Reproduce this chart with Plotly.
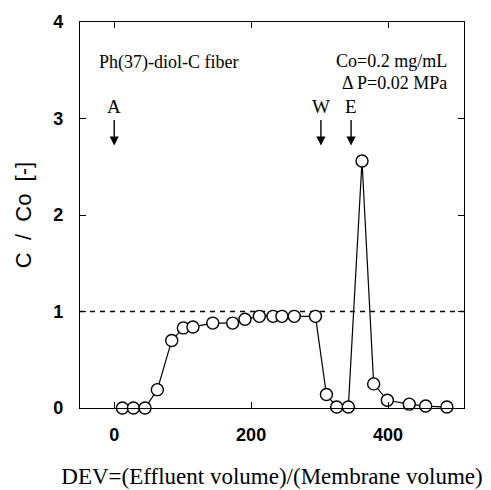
import plotly.graph_objects as go

dev = [12, 28, 45, 63, 84, 101, 115, 144, 173, 191, 212, 232, 245, 263, 294,
       310, 325, 342, 362, 379, 399, 431, 455, 486]
c_co = [0.0, 0.0, 0.0, 0.19, 0.70, 0.83, 0.84, 0.88, 0.88, 0.92, 0.95, 0.95,
        0.95, 0.95, 0.95, 0.14, 0.01, 0.01, 2.56, 0.25, 0.08, 0.04, 0.02, 0.01]

arrow_labels = ["A", "W", "E"]
arrow_x = [0, 302, 346]
arrow_tip = 2.72
arrow_tail = 3.0

x_ticks = [0, 200, 400]
y_ticks = [0, 1, 2, 3, 4]

fig = go.Figure()
fig.add_trace(go.Scatter(
    x=dev, y=c_co, mode="lines+markers",
    line=dict(color="black", width=1.2),
    marker=dict(symbol="circle", size=12, color="white",
                line=dict(color="black", width=1.4)),
    showlegend=False, cliponaxis=False))

fig.add_shape(type="line", xref="paper", x0=0, x1=1, yref="y", y0=1, y1=1,
              line=dict(color="black", width=1.3, dash="5px,5px"), layer="below")

serif = "Liberation Serif, Times New Roman, serif"
sans = "Liberation Sans, Arial, sans-serif"

for lab, xv in zip(arrow_labels, arrow_x):
    fig.add_annotation(x=xv, y=arrow_tip, ax=xv, ay=arrow_tail,
                       xref="x", yref="y", axref="x", ayref="y",
                       showarrow=True, arrowhead=2, arrowsize=1.3,
                       arrowwidth=1.4, arrowcolor="black", text="")
    fig.add_annotation(x=xv, y=arrow_tail, xref="x", yref="y", text=lab,
                       showarrow=False, yanchor="bottom",
                       font=dict(family=serif, size=19, color="black"))

fig.add_annotation(x=0.045, y=3.58, xref="paper", yref="y",
                   text="Ph(37)-diol-C fiber", showarrow=False,
                   xanchor="left", font=dict(family=serif, size=18, color="black"))
fig.add_annotation(x=0.96, y=3.6, xref="paper", yref="y",
                   text="Co=0.2 mg/mL", showarrow=False,
                   xanchor="right", font=dict(family=serif, size=18, color="black"))
fig.add_annotation(x=0.96, y=3.37, xref="paper", yref="y",
                   text="Δ P=0.02 MPa", showarrow=False,
                   xanchor="right", font=dict(family=serif, size=18, color="black"))

fig.update_layout(
    width=491, height=490,
    margin=dict(l=72, r=35, t=14, b=90),
    paper_bgcolor="white", plot_bgcolor="white",
    xaxis=dict(range=[-50, 511], tickvals=x_ticks, ticks="inside", ticklen=6,
               tickcolor="black", showline=True, linecolor="black", linewidth=1.3,
               mirror="ticks", showgrid=False, zeroline=False, automargin=False,
               ticklabelstandoff=10,
               tickfont=dict(family=sans, size=18, color="black", weight="bold"),
               title=dict(text="DEV=(Effluent volume)/(Membrane volume)",
                          font=dict(family=serif, size=23, color="black"),
                          standoff=24)),
    yaxis=dict(range=[0, 4], tickvals=y_ticks, ticks="inside", ticklen=6,
               tickcolor="black", showline=True, linecolor="black", linewidth=1.3,
               mirror="ticks", showgrid=False, zeroline=False, automargin=False,
               ticklabelstandoff=12,
               tickfont=dict(family=sans, size=18, color="black", weight="bold"),
               title=dict(text="C  /  Co  [-]",
                          font=dict(family=sans, size=22, color="black"),
                          standoff=15)),
)

fig.write_html("out.html")
